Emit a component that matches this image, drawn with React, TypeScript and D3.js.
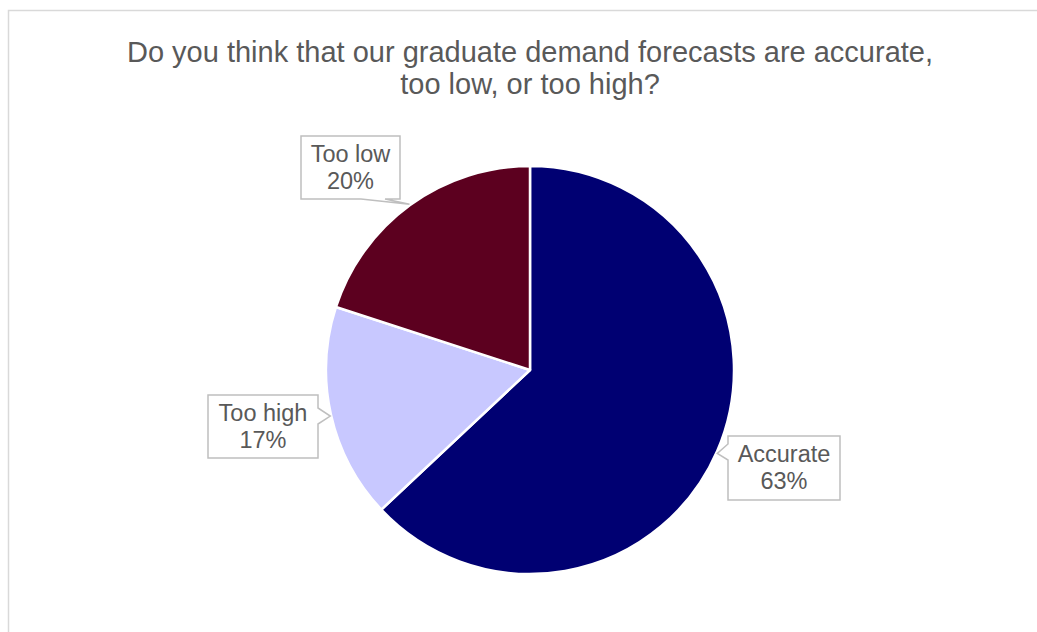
import React from "react";
import * as d3 from "d3";

const categories = ["Accurate", "Too high", "Too low"];
const values = [63, 17, 20];
const colors = ["#000072", "#c8c8ff", "#5c001f"];
const titleLines = ["Do you think that our graduate demand forecasts are accurate,", "too low, or too high?"];

// label box layout (x, y, w, h) and callout side
const labelBoxes = [
  { x: 728, y: 436, w: 112, h: 64, side: "left", tipAngle: 114 },
  { x: 208, y: 395, w: 110, h: 63, side: "right", tipAngle: 257 },
  { x: 301, y: 136, w: 99, h: 63, side: "bottom", tipAngle: 324 },
];

export default function App() {
  const W = 1037, H = 632;
  const cx = 530, cy = 370, r = 204;
  const pie = d3.pie<number>().sort(null).value((d) => d)(values);
  const arc = d3.arc<d3.PieArcDatum<number>>().innerRadius(0).outerRadius(r);
  const total = d3.sum(values);
  const font = "'Liberation Sans', Arial, sans-serif";

  return (
    <svg width={W} height={H} style={{ position: "absolute", left: 0, top: 0 }} fontFamily={font}>
      <rect x={0} y={0} width={W} height={H} fill="#fff" />
      <rect x={8.5} y={10.5} width={W + 20} height={H + 20} fill="none" stroke="#d9d9d9" strokeWidth={1.5} />
      {titleLines.map((t, i) => (
        <text key={i} x={cx} y={62 + i * 32} textAnchor="middle" fontSize={29} fill="#595959">
          {t}
        </text>
      ))}
      <g transform={`translate(${cx},${cy})`}>
        {pie.map((p, i) => (
          <path key={i} d={arc(p) || ""} fill={colors[i]} stroke="#fff" strokeWidth={2.5} strokeLinejoin="round" />
        ))}
      </g>
      {labelBoxes.map((b, i) => {
        const a = (b.tipAngle * Math.PI) / 180;
        const tx = cx + (r + 1) * Math.sin(a);
        const ty = cy - (r + 1) * Math.cos(a);
        const { x, y, w, h } = b;
        let d = "";
        if (b.side === "left") {
          const y1 = y + 8, y2 = y + 24;
          d = `M${x},${y} H${x + w} V${y + h} H${x} V${y2} L${tx},${ty} L${x},${y1} Z`;
        } else if (b.side === "right") {
          const y1 = y + 13, y2 = y + 29;
          d = `M${x},${y} H${x + w} V${y1} L${tx},${ty} L${x + w},${y2} V${y + h} H${x} Z`;
        } else {
          const x1 = x + 60, x2 = x + 84;
          d = `M${x},${y} H${x + w} V${y + h} H${x2} L${tx},${ty} L${x1},${y + h} H${x} Z`;
        }
        const pct = Math.round((values[i] / total) * 100);
        return (
          <g key={i}>
            <path d={d} fill="#fff" stroke="#bfbfbf" strokeWidth={1.5} />
            <text x={x + w / 2} y={y + 26} textAnchor="middle" fontSize={23.5} fill="#595959">
              {categories[i]}
            </text>
            <text x={x + w / 2} y={y + 53} textAnchor="middle" fontSize={23.5} fill="#595959">
              {pct}%
            </text>
          </g>
        );
      })}
    </svg>
  );
}
